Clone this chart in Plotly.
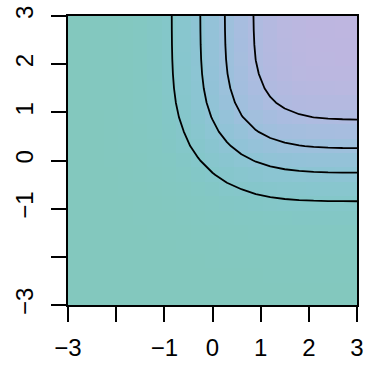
import math
import plotly.graph_objects as go

# Grid on [-3, 3] (step 0.3) and the standard normal CDF at each grid point
grid = [-3.0, -2.7, -2.4, -2.1, -1.8, -1.5, -1.2, -0.9, -0.6, -0.3, 0.0,
        0.3, 0.6, 0.9, 1.2, 1.5, 1.8, 2.1, 2.4, 2.7, 3.0]
cdf = [0.00135, 0.00347, 0.00820, 0.01786, 0.03593, 0.06681, 0.11507,
       0.18406, 0.27425, 0.38209, 0.50000, 0.61791, 0.72575, 0.81594,
       0.88493, 0.93319, 0.96407, 0.98214, 0.99180, 0.99653, 0.99865]

# Joint CDF of two independent normals: P(X<=x) * P(Y<=y)
z = [[cy * cx for cx in cdf] for cy in cdf]

contour_levels = [0.2, 0.4, 0.6, 0.8]

tick_vals = [-3, -2, -1, 0, 1, 2, 3]
x_tick_text = ["\u22123", "", "\u22121", "0", "1", "2", "3"]
y_tick_text = ["\u22123", "", "\u22121", "0", "1", "2", "3"]


def hcl_hex(h, c, l):
    """Polar CIELUV -> sRGB hex (D65 white)."""
    xn, yn, zn = 95.047, 100.0, 108.883
    un = 4 * xn / (xn + 15 * yn + 3 * zn)
    vn = 9 * yn / (xn + 15 * yn + 3 * zn)
    Y = yn * ((l + 16) / 116) ** 3 if l > 8 else yn * l / 903.3
    U = c * math.cos(math.radians(h))
    V = c * math.sin(math.radians(h))
    u = U / (13 * l) + un
    v = V / (13 * l) + vn
    X = 9.0 * Y * u / (4 * v)
    Z = -X / 3 - 5 * Y + 3 * Y / v
    X, Y, Z = X / 100, Y / 100, Z / 100
    r = 3.240479 * X - 1.537150 * Y - 0.498535 * Z
    g = -0.969256 * X + 1.875992 * Y + 0.041556 * Z
    b = 0.055648 * X - 0.204043 * Y + 1.057311 * Z

    def gam(t):
        t = 12.92 * t if t <= 0.0031308 else 1.055 * t ** (1 / 2.4) - 0.055
        return max(0, min(255, round(t * 255)))

    return "#%02x%02x%02x" % (gam(r), gam(g), gam(b))


n_col = 24
colorscale = [[i / (n_col - 1), hcl_hex(178 + 95 * i / (n_col - 1), 33, 76)]
              for i in range(n_col)]

fig = go.Figure()
fig.add_trace(go.Heatmap(
    x=grid, y=grid, z=z, zmin=0, zmax=1,
    colorscale=colorscale, showscale=False, zsmooth=False,
    hoverinfo="skip",
))
fig.add_trace(go.Contour(
    x=grid, y=grid, z=z,
    autocontour=False,
    contours=dict(start=contour_levels[0], end=contour_levels[-1],
                  size=0.2, coloring="none", showlabels=False),
    line=dict(color="black", width=1.8, smoothing=0),
    showscale=False, hoverinfo="skip",
))

axis_common = dict(
    range=[-3, 3], tickvals=tick_vals, showgrid=False, zeroline=False,
    showline=True, linecolor="black", linewidth=2, mirror=True,
    ticks="outside", ticklen=15, tickwidth=1.8, tickcolor="black",
    automargin=False,
    tickfont=dict(family="Liberation Sans, Arial, sans-serif",
                  size=24, color="black"),
)

fig.update_layout(
    width=365, height=365,
    margin=dict(l=68, r=8, t=16, b=60),
    paper_bgcolor="white", plot_bgcolor="white",
    showlegend=False,
    xaxis=dict(**axis_common, ticktext=x_tick_text, ticklabelstandoff=5),
    yaxis=dict(**axis_common, ticktext=y_tick_text, tickangle=-90,
               ticklabelstandoff=8),
)

fig.write_html("out.html")
